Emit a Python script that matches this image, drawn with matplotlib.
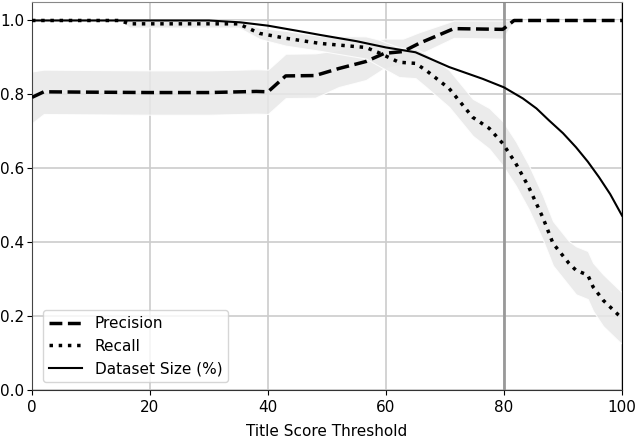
import numpy as np
import matplotlib
matplotlib.use("Agg")
import matplotlib.pyplot as plt

# values
prec_x = [0, 2, 10, 20, 30, 38, 40, 43, 48, 52, 56.6, 59.7, 62.9, 65.6, 71.5, 79.8, 81.7, 90, 100]
prec_y = [0.792, 0.807, 0.806, 0.805, 0.805, 0.808, 0.807, 0.850, 0.851, 0.870, 0.889, 0.911, 0.916, 0.938, 0.978, 0.976, 1.0, 1.0, 1.0]
prec_sd = [0.07, 0.06, 0.06, 0.06, 0.06, 0.06, 0.06, 0.06, 0.06, 0.05, 0.05, 0.04, 0.035, 0.03, 0.025, 0.025, 0.0, 0.0, 0.0]

rec_x = [0, 14.9, 16.5, 25, 35, 38.6, 43, 48.8, 56.6, 58.6, 62.2, 65, 66.8, 70.7, 74.7, 77.5, 79.8,
         82, 84.2, 86.6, 88.3, 91, 92.2, 94.2, 95.1, 96.8, 99.4, 100]
rec_y = [1.0, 1.0, 0.991, 0.991, 0.991, 0.965, 0.952, 0.938, 0.927, 0.914, 0.887, 0.884, 0.865, 0.816, 0.738, 0.708, 0.667,
         0.613, 0.549, 0.466, 0.397, 0.343, 0.324, 0.311, 0.279, 0.243, 0.203, 0.195]
rec_sd = [0.0, 0.0, 0.01, 0.01, 0.01, 0.015, 0.02, 0.02, 0.03, 0.035, 0.04, 0.04, 0.045, 0.05, 0.05, 0.055, 0.06,
          0.06, 0.06, 0.06, 0.06, 0.06, 0.065, 0.065, 0.065, 0.07, 0.07, 0.07]

size_x = [0, 30, 35.3, 40, 45, 48.8, 55, 60, 65, 70.7, 76.4, 80, 83.2, 85.5, 87.6, 90, 92.2, 94.2, 96.1, 98, 100]
size_y = [1.0, 1.0, 0.995, 0.986, 0.972, 0.961, 0.944, 0.927, 0.914, 0.874, 0.842, 0.819, 0.789, 0.762, 0.730, 0.695, 0.657, 0.618, 0.576, 0.530, 0.472]

threshold = 80

plt.rcParams['font.size'] = 11

fig = plt.figure(figsize=(6.36, 4.38), dpi=100)
ax = fig.add_axes([0.0503, 0.1096, 0.9277, 0.8858])

band = '#e8e8e8'
px, py, ps = np.array(prec_x), np.array(prec_y), np.array(prec_sd)
rx, ry, rs = np.array(rec_x), np.array(rec_y), np.array(rec_sd)
ax.fill_between(px, py - ps, np.minimum(py + ps, 1.0), color=band, alpha=0.85, edgecolor='white', linewidth=0.8, zorder=1)
ax.fill_between(rx, ry - rs, np.minimum(ry + rs, 1.0), color=band, alpha=0.85, edgecolor='white', linewidth=0.8, zorder=1)

ax.plot(prec_x, prec_y, 'k--', lw=2.5, label='Precision', zorder=3)
ax.plot(rec_x, rec_y, 'k:', lw=2.5, label='Recall', zorder=3)
ax.plot(size_x, size_y, 'k-', lw=1.5, label='Dataset Size (%)', zorder=3)

ax.axvline(threshold, color='#999999', lw=2, zorder=2)

ax.set_xlim(0, 100)
ax.set_ylim(0, 1.05)
ax.set_xticks([0, 20, 40, 60, 80, 100])
ax.set_yticks([0.0, 0.2, 0.4, 0.6, 0.8, 1.0])
ax.tick_params(axis='y', pad=2)
ax.grid(True, color='#cccccc', lw=1.2, zorder=0)
ax.set_axisbelow(True)
ax.set_xlabel('Title Score Threshold', labelpad=7)

ax.spines['top'].set_color('#888888')
ax.spines['left'].set_color('#444444')
ax.spines['bottom'].set_color('#333333')
ax.spines['right'].set_color('black')

ax.legend(loc='lower left', bbox_to_anchor=(0.005, 0.0), handlelength=2.2)

fig.savefig('out.png', dpi=100)
